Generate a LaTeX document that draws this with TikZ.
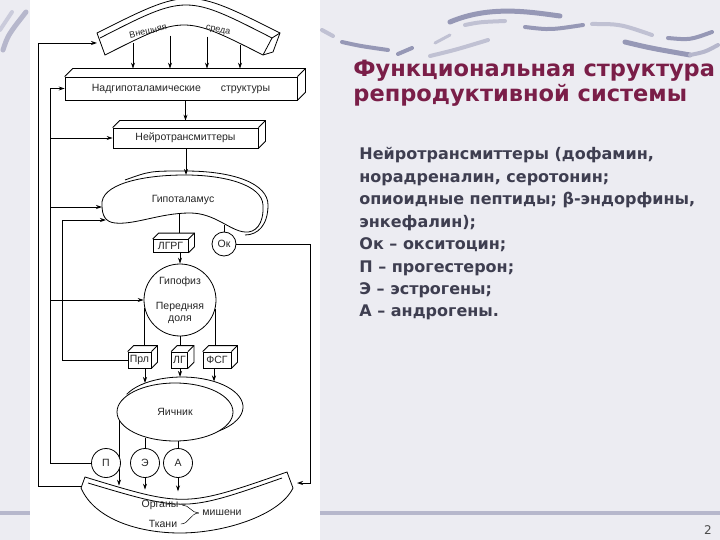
\documentclass[tikz,border=0pt]{standalone}
\usepackage{fontspec}
\setmainfont{Liberation Sans}
\newfontfamily\zagfont{DejaVu Sans}
\usetikzlibrary{shapes.geometric, calc, arrows.meta}

\definecolor{fon}{RGB}{236,236,242}
\definecolor{volna}{RGB}{150,152,182}
\definecolor{zagcol}{RGB}{122,30,72}
\definecolor{tekstcol}{RGB}{62,62,80}

% side and top faces of a box node
\newcommand{\obem}[2]{%
  \draw (#1.north west) -- ++(#2,-#2) -- ($(#1.north east)+(#2,-#2)$) -- ($(#1.south east)+(#2,-#2)$) -- (#1.south east);
  \draw (#1.north east) -- ++(#2,-#2);}

\begin{document}
\begin{tikzpicture}[x=1pt, y=-1pt, line width=0.8pt, >={Stealth[length=6pt,width=4pt]},
    every node/.style={font=\fontsize{10.5}{12}\selectfont, text=black!85},
    blok/.style={draw, fill=white, inner sep=1pt},
    krug/.style={draw, circle, fill=white, inner sep=0pt},
    zag/.style={anchor=base west, inner sep=0pt, font=\zagfont\bfseries\fontsize{22.5}{26}\selectfont, text=zagcol},
    stroka/.style={anchor=base west, inner sep=0pt, font=\zagfont\bfseries\fontsize{16}{19}\selectfont, text=tekstcol}]
  \useasboundingbox (0,0) rectangle (720,540);
  % slide background
  \fill[fon] (0,0) rectangle (720,540);
  \fill[white] (30,0) rectangle (320,540);
  \draw[volna!70, line width=3.5pt] (0,513) -- (30,513);
  \draw[volna!70, line width=3.5pt] (320,513) -- (720,513);
  \draw[volna, line width=5pt, line cap=round] (450,22) .. controls (490,5) and (530,12) .. (560,16);
  \draw[volna!60, line width=4pt, line cap=round] (465,25) .. controls (480,22) .. (505,21);
  \draw[volna, line width=4pt, line cap=round] (525,27) .. controls (550,30) .. (583,25);
  \draw[volna!60, line width=4pt, line cap=round] (592,24) .. controls (620,24) .. (652,35);
  \draw[volna, line width=4pt, line cap=round] (668,38) .. controls (690,40) .. (712,32);
  \draw[volna, line width=5pt, line cap=round] (625,42) .. controls (650,48) .. (690,55);
  \draw[volna!70, line width=4pt, line cap=round] (690,55) .. controls (705,52) .. (718,45);
  \draw[volna, line width=4pt, line cap=round] (342,42) .. controls (360,46) .. (388,50);
  \draw[volna!60, line width=4pt, line cap=round] (322,30) -- (333,36);
  \draw[volna, line width=4pt, line cap=round] (398,54) -- (412,48);
  \draw[volna!60, line width=4pt, line cap=round] (430,56) .. controls (455,50) .. (488,40);
  \draw[volna!60, line width=3pt, line cap=round] (435,43) -- (450,35);
  \draw[volna!70, line width=5pt, line cap=round] (3,50) .. controls (8,35) .. (26,12);
  \draw[volna!50, line width=4pt, line cap=round] (0,30) -- (12,12);

  % external environment
  \draw (97,33) .. controls (188.5,-13) .. (280,33) -- (273,52) -- (263,55)
        .. controls (184,15) .. (105,55) -- cycle;
  \draw (100,38) .. controls (186,-6) .. (272,38) -- (263,55);
  \draw (280,33) -- (272,38);
  \node[rotate=13, font=\fontsize{9}{10}\selectfont] (vnesh) at (148,31) {Внешняя};
  \node[rotate=-12, font=\fontsize{9}{10}\selectfont] (sreda) at (218,31) {среда};
  \coordinate (sredaL) at (97,43);
  \coordinate (sr1) at (133,43.3);
  \coordinate (sr2) at (170,35.6);
  \coordinate (sr3) at (207,36.7);
  \coordinate (sr4) at (240,45);

  \node[blok, minimum width=232pt, minimum height=23pt] (nadg) at (181,88.5) {Надгипоталамические\hspace{20pt}структуры};
  \obem{nadg}{8}
  \node[blok, minimum width=145pt, minimum height=20pt] (neiro) at (185.5,138) {Нейротрансмиттеры};
  \obem{neiro}{7}

  % hypothalamus
  \draw (102,205) .. controls (100,185) and (140,175) .. (185,175) .. controls (225,175) and (262,185) .. (263,205)
        .. controls (264,225) and (255,233) .. (245,232) .. controls (230,231) and (215,213) .. (190,213)
        .. controls (160,213) and (135,225) .. (115,223) .. controls (105,222) and (102,215) .. (102,205) -- cycle;
  \draw (125,180) .. controls (150,171) .. (185,171) .. controls (235,171) and (268,184) .. (268,205)
        .. controls (268,225) and (258,235) .. (245,235);
  \node (gipotal) at (183,200) {Гипоталамус};
  \coordinate (hypTop) at (186,175);
  \coordinate (hypB1) at (179,214);
  \coordinate (hypB2) at (224,225);
  \coordinate (hypIn1) at (102,207);
  \coordinate (hypIn2) at (106,220);

  \node[blok, minimum width=35pt, minimum height=13pt] (lgrg) at (170.5,246) {ЛГРГ};
  \obem{lgrg}{6}
  \node[krug, minimum size=24pt] (ok) at (224,244) {Ок};
  \node[krug, minimum size=72pt, align=center] (gip) at (180,300) {Гипофиз\\[13pt]Передняя\\доля};

  \node[blok, minimum width=23pt, minimum height=16pt] (prl) at (139.5,360) {Прл};
  \obem{prl}{6}
  \node[blok, minimum width=16pt, minimum height=16pt] (lg) at (179.5,360) {ЛГ};
  \obem{lg}{6}
  \node[blok, minimum width=28pt, minimum height=16pt] (fsg) at (217,360) {ФСГ};
  \obem{fsg}{6}

  % ovary
  \draw (182,407) ++(-155:61 and 30) arc[start angle=-155, end angle=55, x radius=61, y radius=30];
  \node[draw, ellipse, fill=white, minimum width=116pt, minimum height=58pt] (yaich) at (175,412) {Яичник};
  \coordinate (yv1) at (145,383);
  \coordinate (yv2) at (180,377);
  \coordinate (yv3) at (214,381.5);
  \coordinate (yP) at (119,419.5);
  \coordinate (yE) at (145,437.5);
  \coordinate (yA) at (178,441);

  % target organs
  \draw (85,477) .. controls (185,507.5) .. (287,472) -- (293,488)
        .. controls (280,515) and (225,533) .. (180,533) .. controls (140,533) and (95,520) .. (81,488) -- cycle;
  \draw (88,483) .. controls (185,512) .. (282,478);
  \node (organy) at (160,505) {Органы};
  \node (tkani) at (163,524) {Ткани};
  \node (misheni) at (222,513) {мишени};
  \draw[line width=0.5pt] (organy.east) to[out=0, in=180] (misheni.west);
  \draw[line width=0.5pt] (tkani.east) to[out=0, in=180] (misheni.west);
  \coordinate (orgP) at (119,485.7);
  \coordinate (orgE) at (145,489.6);
  \coordinate (orgA) at (178,491.3);
  \coordinate (orgL) at (82,486);
  \coordinate (orgR) at (297,483);

  \draw[->] (yP) -- (orgP);
  \draw[->] (yE) -- (orgE);
  \draw[->] (yA) -- (orgA);
  \node[krug, minimum size=29pt] (p) at (106,463) {П};
  \node[krug, minimum size=29pt] (e) at (145,463) {Э};
  \node[krug, minimum size=29pt] (a) at (178,463) {А};

  % vertical links
  \draw[->, shorten >=8pt] (sr1) -- (sr1 |- nadg.north);
  \draw[->, shorten >=8pt] (sr2) -- (sr2 |- nadg.north);
  \draw[->, shorten >=8pt] (sr3) -- (sr3 |- nadg.north);
  \draw[->, shorten >=8pt] (sr4) -- (sr4 |- nadg.north);
  \draw[->, shorten >=7pt] (neiro.north |- nadg.south) -- (neiro.north);
  \draw[->] (hypTop |- neiro.south) -- (hypTop);
  \draw[shorten >=6pt] (hypB1) -- (hypB1 |- lgrg.north);
  \draw (hypB2) -- (ok.north);
  \draw[->] (gip.north |- lgrg.south) -- (gip.north);
  \draw[shorten >=6pt] (gip.193) -- (gip.193 |- prl.north);
  \draw[shorten >=6pt] (gip.south) -- (gip.south |- lg.north);
  \draw[shorten >=6pt] (gip.-14) -- (gip.-14 |- fsg.north);
  \draw[->] (yv1 |- prl.south) -- (yv1);
  \draw[->] (yv2 |- lg.south) -- (yv2);
  \draw[->] (yv3 |- fsg.south) -- (yv3);

  % feedback lines
  \coordinate (shina1) at (38,0);
  \coordinate (shina2) at (50,0);
  \coordinate (shina3) at (62,0);
  \coordinate (shina4) at (310,0);
  \draw[->] (orgL) -- (orgL -| shina1) -- (shina1 |- sredaL) -- (sredaL);
  \draw[->] (p.west) -- (p.west -| shina2) -- (shina2 |- nadg.west) -- (nadg.west);
  \draw[->] (shina2 |- neiro.west) -- (neiro.west);
  \draw[->] (shina2 |- hypIn1) -- (hypIn1);
  \draw[->] (shina2 |- gip.west) -- (gip.west);
  \draw[->] (prl.west) -- (prl.west -| shina3) -- (shina3 |- hypIn2) -- (hypIn2);
  \draw[->] (ok.east) -- (ok.east -| shina4) -- (shina4 |- orgR) -- (orgR);

  % slide text
  \node[zag] (t1) at (353,76.7) {Функциональная структура};
  \node[zag] (t2) at (353,101.7) {репродуктивной системы};
  \node[stroka] (b1) at (359,160) {Нейротрансмиттеры (дофамин,};
  \node[stroka] (b2) at (359,182.4) {норадреналин, серотонин;};
  \node[stroka] (b3) at (359,204.8) {опиоидные пептиды; β-эндорфины,};
  \node[stroka] (b4) at (359,227.2) {энкефалин);};
  \node[stroka] (b5) at (359,249.6) {Ок – окситоцин;};
  \node[stroka] (b6) at (359,272) {П – прогестерон;};
  \node[stroka] (b7) at (359,294.4) {Э – эстрогены;};
  \node[stroka] (b8) at (359,316.8) {А – андрогены.};
  \node[font=\zagfont\fontsize{12}{14}\selectfont, text=black!70] (nomer) at (708,530) {2};
\end{tikzpicture}
\end{document}
